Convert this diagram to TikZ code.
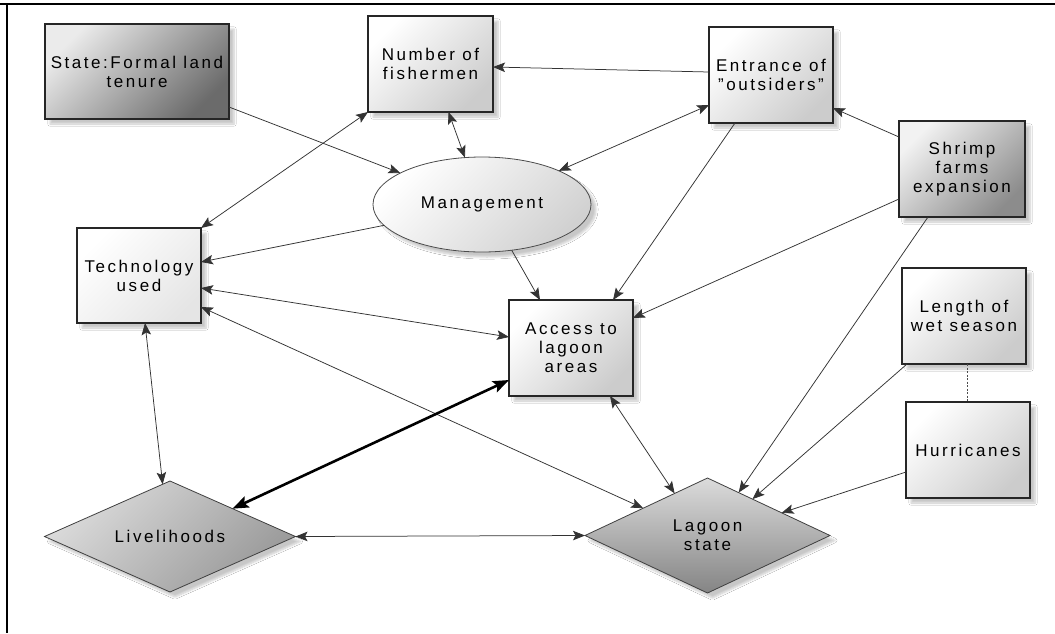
\documentclass[tikz,border=0pt]{standalone}
\usepackage{fontspec}
\setmainfont{Liberation Sans}[LetterSpace=15]
\usetikzlibrary{arrows.meta,shapes.geometric,calc,shadows.blur}
\newcommand{\dq}{\symbol{34}}
\begin{document}
\begin{tikzpicture}[x=1pt,y=-1pt,
  >={Stealth[length=12pt,width=9.5pt,inset=2.5pt]},
  base/.style={inner sep=1pt, outer sep=0pt, align=center,
    font=\fontsize{17}{19}\selectfont,
    blur shadow={shadow blur steps=6, shadow xshift=5pt, shadow yshift=-5pt, shadow opacity=22}},
  box/.style={base, rectangle, draw=black!85, line width=1.1pt, minimum width=124pt, minimum height=96pt},
  lightfill/.style={top color=white, bottom color=black!20, shading angle=45},
  darkfill/.style={top color=black!8, bottom color=black!58, shading angle=45},
  midfill/.style={top color=black!5, bottom color=black!45, shading angle=45},
  dia/.style={base, diamond, inner sep=0pt, draw=black!75, line width=0.8pt, top color=black!14, bottom color=black!40, shading angle=45},
  ln/.style={draw=black!80, line width=0.75pt},
  thk/.style={draw=black, line width=2.6pt, >={Stealth[length=16pt,width=12pt,inset=3pt]}},
  dashln/.style={draw=black!70, line width=1pt, dash pattern=on 2pt off 1.5pt}]
\useasboundingbox (0,0) rectangle (1055,633);
\fill[white] (0,0) rectangle (1055,633);
% frame
\draw[line width=1.8pt] (0,4) -- (1055,4);
\draw[line width=1.8pt] (7,4) -- (7,633);
% nodes
\node[box, darkfill, minimum width=184pt, minimum height=95pt] (state) at (137,71.5) {State:Formal land\\tenure};
\node[box, lightfill, minimum width=125pt] (fish) at (430.5,64) {Number of\\fishermen};
\node[box, lightfill] (ent) at (771,75) {Entrance of\\\dq outsiders\dq};
\node[box, midfill, minimum width=126pt] (shrimp) at (962,169) {Shrimp\\farms\\expansion};
\node[base, ellipse, draw=black!70, line width=0.8pt, top color=white, bottom color=black!18, shading angle=45, minimum width=218pt, minimum height=95pt] (mgmt) at (482,204.5) {Management};
\node[box, top color=white, bottom color=black!10, shading angle=45, minimum height=95pt] (tech) at (139,275.5) {Technology\\used};
\node[box, lightfill] (acc) at (571,348) {Access to\\lagoon\\areas};
\node[box, lightfill] (len) at (964,316) {Length of\\wet season};
\node[box, lightfill] (hur) at (968,450) {Hurricanes};
\node[dia, aspect=4, minimum width=251pt, minimum height=111pt] (live) at (170,536.5) {Livelihoods};
\node[dia, aspect=2.2, minimum width=245pt, minimum height=115pt, bottom color=black!48] (lag) at (707.5,535.5) {Lagoon\\state};
% connectors
\draw[ln,->] ($(state.south east)+(0,-12)$) -- (mgmt);
\draw[ln,<->] (tech.north east) -- (fish.south west);
\draw[ln,<->] ($(fish.south)+(18,0)$) -- (mgmt.110);
\draw[ln,->] ($(ent.west)+(0,-3)$) -- ($(fish.east)+(0,3)$);
\draw[ln,<->] ($(ent.west)+(0,30)$) -- (mgmt);
\draw[ln,->] ($(ent.south)+(-36,0)$) -- ($(acc.north)+(42,0)$);
\draw[ln,->] ($(shrimp.west)+(0,-32)$) -- ($(ent.east)+(0,33)$);
\draw[ln,->] ($(shrimp.west)+(0,30)$) -- ($(acc.east)+(0,-30)$);
\draw[ln,->] ($(shrimp.south)+(-34,0)$) -- (lag.54);
\draw[ln,->] ($(len.south west)+(5,0)$) -- (lag.39);
\draw[ln,->] ($(hur.west)+(0,22)$) -- (lag.17);
\draw[dashln] ($(len.south)+(3,0)$) -- ($(hur.north)+(-1,0)$);
\draw[ln,->] (mgmt.192) -- ($(tech.east)+(0,-13.5)$);
\draw[ln,->] (mgmt.-57) -- ($(acc.north)+(-31,0)$);
\draw[ln,<->] ($(tech.east)+(0,12.5)$) -- ($(acc.west)+(0,-11)$);
\draw[ln,<->] ($(tech.east)+(0,31.5)$) -- (lag.157);
\draw[ln,<->] ($(tech.south)+(6,0)$) -- (live.98);
\draw[thk,<->] ($(acc.west)+(0,32)$) -- (live.24);
\draw[ln,<->] (live.east) -- (lag.west);
\draw[ln,<->] ($(acc.south)+(39,0)$) -- (lag.128);
\end{tikzpicture}
\end{document}
